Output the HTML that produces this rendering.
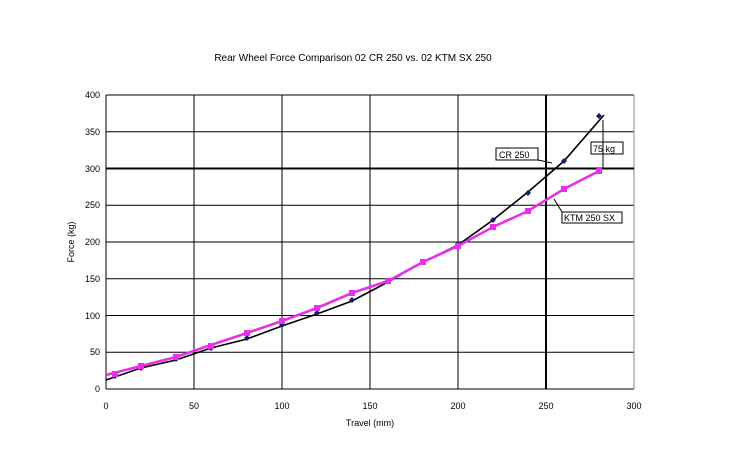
<!DOCTYPE html>
<html><head><style>body{margin:0;background:#fff}svg text{font-family:"Liberation Sans",sans-serif;font-size:9px;fill:#000}</style></head><body>
<svg width="733" height="463" xmlns="http://www.w3.org/2000/svg">
<text x="353" y="61" text-anchor="middle" style="font-size:10px">Rear Wheel Force Comparison 02 CR 250 vs. 02 KTM SX 250</text>
<g stroke="#000" stroke-width="1">
<line x1="106" y1="95" x2="634" y2="95"/><line x1="106" y1="131.75" x2="634" y2="131.75"/>
<line x1="106" y1="205.25" x2="634" y2="205.25"/><line x1="106" y1="242" x2="634" y2="242"/>
<line x1="106" y1="278.75" x2="634" y2="278.75"/><line x1="106" y1="315.5" x2="634" y2="315.5"/>
<line x1="106" y1="352.25" x2="634" y2="352.25"/>
<line x1="194" y1="95" x2="194" y2="389"/><line x1="282" y1="95" x2="282" y2="389"/>
<line x1="370" y1="95" x2="370" y2="389"/><line x1="458" y1="95" x2="458" y2="389"/>
<line x1="106" y1="95" x2="106" y2="389"/><line x1="106" y1="389" x2="634" y2="389"/>
</g>
<line x1="634" y1="95" x2="634" y2="389" stroke="#888"/>
<line x1="106" y1="168.5" x2="634" y2="168.5" stroke="#000" stroke-width="2"/>
<line x1="546" y1="95" x2="546" y2="389" stroke="#000" stroke-width="2"/>
<g text-anchor="end"><text x="100" y="98">400</text><text x="100" y="135">350</text><text x="100" y="172">300</text><text x="100" y="208">250</text><text x="100" y="245">200</text><text x="100" y="282">150</text><text x="100" y="319">100</text><text x="100" y="355">50</text><text x="100" y="392">0</text></g>
<g text-anchor="middle"><text x="106" y="409">0</text><text x="194" y="409">50</text><text x="282" y="409">100</text><text x="370" y="409">150</text><text x="458" y="409">200</text><text x="546" y="409">250</text><text x="634" y="409">300</text>
<text x="370" y="426">Travel (mm)</text>
<text transform="translate(74,242) rotate(-90)">Force (kg)</text></g>
<polyline fill="none" stroke="#000" stroke-width="1.6" points="106,380 141,368 176,360 211,348 247,339 282,326 317,314 352,301 388,282 423,262 458,245 493,220 528,192 564,161 604,115"/>
<polyline fill="none" stroke="#e830e8" stroke-width="2.6" points="106,375 141,366 176,357 211,345 247,333 282,321 317,308 352,293 388,281 423,262 458,246 493,227 528,211 564,189 599,171"/>
<g fill="#1a1a6e"><path d="M115,373l3,3-3,3-3-3z"/><path d="M141,365l3,3-3,3-3-3z"/><path d="M176,356l3,3-3,3-3-3z"/><path d="M211,345l3,3-3,3-3-3z"/><path d="M247,335l3,3-3,3-3-3z"/><path d="M282,322l3,3-3,3-3-3z"/><path d="M317,310l3,3-3,3-3-3z"/><path d="M352,297l3,3-3,3-3-3z"/><path d="M388,278l3,3-3,3-3-3z"/><path d="M423,259l3,3-3,3-3-3z"/><path d="M458,241l3,3-3,3-3-3z"/><path d="M493,217l3,3-3,3-3-3z"/><path d="M528,190l3,3-3,3-3-3z"/><path d="M564,158l3,3-3,3-3-3z"/><path d="M599,113l3,3-3,3-3-3z"/></g>
<g fill="#e830e8"><rect x="112" y="371" width="6" height="6"/><rect x="138" y="363" width="6" height="6"/><rect x="173" y="354" width="6" height="6"/><rect x="208" y="343" width="6" height="6"/><rect x="244" y="330" width="6" height="6"/><rect x="279" y="318" width="6" height="6"/><rect x="314" y="305" width="6" height="6"/><rect x="349" y="290" width="6" height="6"/><rect x="385" y="278" width="6" height="6"/><rect x="420" y="259" width="6" height="6"/><rect x="455" y="243" width="6" height="6"/><rect x="490" y="224" width="6" height="6"/><rect x="525" y="208" width="6" height="6"/><rect x="561" y="186" width="6" height="6"/><rect x="596" y="168" width="6" height="6"/></g>
<rect x="496" y="148" width="42" height="12" fill="#fff" stroke="#000"/><text x="499" y="158">CR 250</text>
<line x1="538" y1="160" x2="552" y2="163" stroke="#000"/>
<rect x="591" y="142" width="32" height="12" fill="#fff" stroke="#000"/><text x="593" y="152">75 kg</text>
<line x1="603" y1="120" x2="603" y2="168" stroke="#000"/>
<rect x="562" y="212" width="60" height="11" fill="#fff" stroke="#000"/><text x="564" y="221">KTM 250 SX</text>
<line x1="562" y1="212" x2="554" y2="199" stroke="#000"/>
</svg></body></html>
